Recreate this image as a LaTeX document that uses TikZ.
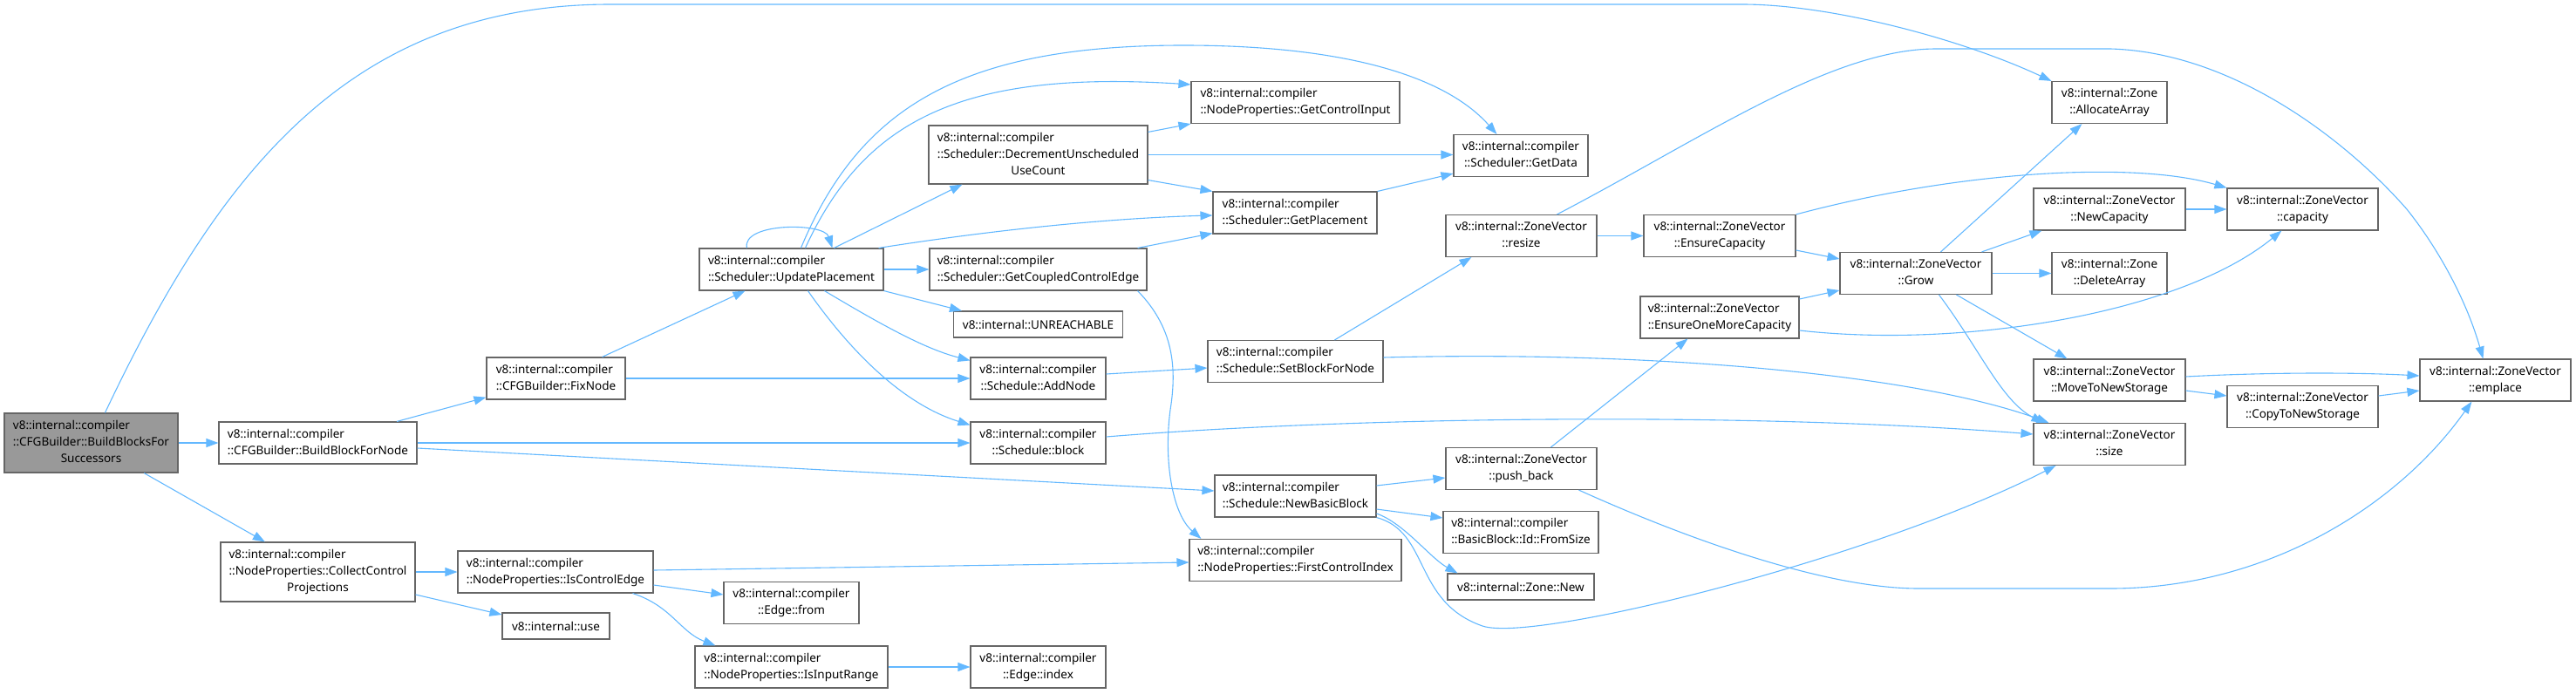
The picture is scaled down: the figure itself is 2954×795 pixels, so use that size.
\documentclass[tikz,border=0pt]{standalone}
\usepackage{fontspec}
\setmainfont{Noto Sans}
\usetikzlibrary{arrows.meta}
\definecolor{edgeblue}{HTML}{63B8FF}
\definecolor{boxgray}{HTML}{666666}
\definecolor{rootgray}{HTML}{999999}
\newcommand{\dxtwo}[2]{\begin{tabular}{@{}l@{}}#1\\\multicolumn{1}{@{}c@{}}{#2}\end{tabular}}
\newcommand{\dxthree}[3]{\begin{tabular}{@{}l@{}}#1\\#2\\\multicolumn{1}{@{}c@{}}{#3}\end{tabular}}
\tikzset{
  fn/.style 2 args={draw=boxgray, fill=white, line width=1.1pt, inner sep=0pt,
    minimum width=#1pt, minimum height=#2pt, font=\fontsize{13.5}{19}\selectfont},
  rootfn/.style 2 args={fn={#1}{#2}, fill=rootgray},
  call/.style={draw=edgeblue, line width=1.1pt, -{Triangle[length=14pt,width=10pt]}}
}
\begin{document}
\begin{tikzpicture}[x=1pt,y=-1pt]
\useasboundingbox (0,0) rectangle (2954,795);
% nodes
\node[rootfn={199}{68}] (bbfs) at (104.5,508) {\dxthree{v8::internal::compiler}{::CFGBuilder::BuildBlocksFor}{Successors}};
\node[fn={227}{48}] (bbfn) at (364.5,508) {\dxtwo{v8::internal::compiler}{::CFGBuilder::BuildBlockForNode}};
\node[fn={223}{68}] (ccp) at (364.5,656) {\dxthree{v8::internal::compiler}{::NodeProperties::CollectControl}{Projections}};
\node[fn={159}{48}] (fix) at (637.5,434) {\dxtwo{v8::internal::compiler}{::CFGBuilder::FixNode}};
\node[fn={224}{48}] (ice) at (637,656) {\dxtwo{v8::internal::compiler}{::NodeProperties::IsControlEdge}};
\node[fn={123}{30}] (use) at (637.5,718) {v8::internal::use};
\node[fn={211}{48}] (up) at (907.5,309) {\dxtwo{v8::internal::compiler}{::Scheduler::UpdatePlacement}};
\node[fn={155}{48}] (ef) at (907.5,691.5) {\dxtwo{v8::internal::compiler}{::Edge::from}};
\node[fn={221}{48}] (iir) at (907.5,765) {\dxtwo{v8::internal::compiler}{::NodeProperties::IsInputRange}};
\node[fn={251}{67}] (dec) at (1190.5,177.5) {\dxthree{v8::internal::compiler}{::Scheduler::DecrementUnscheduled}{UseCount}};
\node[fn={249}{48}] (gce) at (1190.5,309) {\dxtwo{v8::internal::compiler}{::Scheduler::GetCoupledControlEdge}};
\node[fn={194}{30}] (unr) at (1190.5,372) {v8::internal::UNREACHABLE};
\node[fn={155}{48}] (add) at (1190.5,434) {\dxtwo{v8::internal::compiler}{::Schedule::AddNode}};
\node[fn={155}{48}] (blk) at (1190.5,508) {\dxtwo{v8::internal::compiler}{::Schedule::block}};
\node[fn={155}{48}] (ei) at (1190.5,765) {\dxtwo{v8::internal::compiler}{::Edge::index}};
\node[fn={239}{48}] (gci) at (1485.5,117.5) {\dxtwo{v8::internal::compiler}{::NodeProperties::GetControlInput}};
\node[fn={188}{48}] (gp) at (1485,244) {\dxtwo{v8::internal::compiler}{::Scheduler::GetPlacement}};
\node[fn={201}{48}] (sbfn) at (1485.5,414.5) {\dxtwo{v8::internal::compiler}{::Schedule::SetBlockForNode}};
\node[fn={185}{48}] (nbb) at (1485.5,569) {\dxtwo{v8::internal::compiler}{::Schedule::NewBasicBlock}};
\node[fn={243}{48}] (fci) at (1485.5,642.5) {\dxtwo{v8::internal::compiler}{::NodeProperties::FirstControlIndex}};
\node[fn={154}{48}] (gd) at (1744,178.5) {\dxtwo{v8::internal::compiler}{::Scheduler::GetData}};
\node[fn={173}{48}] (rsz) at (1744.5,270.5) {\dxtwo{v8::internal::ZoneVector}{::resize}};
\node[fn={173}{48}] (pb) at (1744.5,537.5) {\dxtwo{v8::internal::ZoneVector}{::push\_back}};
\node[fn={178}{48}] (fs) at (1744,610.5) {\dxtwo{v8::internal::compiler}{::BasicBlock::Id::FromSize}};
\node[fn={168}{30}] (zn) at (1744,673) {v8::internal::Zone::New};
\node[fn={174}{48}] (ec) at (1972,270.5) {\dxtwo{v8::internal::ZoneVector}{::EnsureCapacity}};
\node[fn={182}{48}] (eomc) at (1972,364) {\dxtwo{v8::internal::ZoneVector}{::EnsureOneMoreCapacity}};
\node[fn={174}{48}] (grow) at (2197,313.5) {\dxtwo{v8::internal::ZoneVector}{::Grow}};
\node[fn={132}{48}] (aa) at (2419,117.5) {\dxtwo{v8::internal::Zone}{::AllocateArray}};
\node[fn={174}{48}] (nc) at (2419,240) {\dxtwo{v8::internal::ZoneVector}{::NewCapacity}};
\node[fn={132}{48}] (da) at (2419,313.5) {\dxtwo{v8::internal::Zone}{::DeleteArray}};
\node[fn={174}{48}] (mtns) at (2419,436) {\dxtwo{v8::internal::ZoneVector}{::MoveToNewStorage}};
\node[fn={174}{48}] (sz) at (2419,509.5) {\dxtwo{v8::internal::ZoneVector}{::size}};
\node[fn={173}{48}] (cap) at (2640.5,240) {\dxtwo{v8::internal::ZoneVector}{::capacity}};
\node[fn={173}{48}] (ctns) at (2640.5,466.5) {\dxtwo{v8::internal::ZoneVector}{::CopyToNewStorage}};
\node[fn={173}{48}] (emp) at (2861.5,436) {\dxtwo{v8::internal::ZoneVector}{::emplace}};
% edges
\draw[call] ([xshift=116pt]bbfs.north west) .. controls (250,200) and (400,5) .. (700,5) -- (1998,5) .. controls (2100,5) and (2250,45) .. (aa.north west);
\draw[call] (bbfs.east) -- (bbfn.west);
\draw[call] (bbfs) -- (ccp);
\draw[call] (bbfn) -- (fix);
\draw[call] (bbfn.east) -- (blk.west);
\draw[call] ([yshift=-6pt]bbfn.east) -- ([yshift=6pt]nbb.west);
\draw[call] (fix) -- (up);
\draw[call] (fix.east) -- (add.west);
\draw[call] ([xshift=55pt]up.north west) .. controls (850,255) and (945,255) .. ([xshift=153pt]up.north west);
\draw[call] ([xshift=117pt]up.north west) .. controls (985,125) and (1100,52) .. (1357,52) .. controls (1550,52) and (1660,90) .. ([xshift=50pt]gd.north west);
\draw[call] ([xshift=122pt]up.north west) .. controls (990,140) and (1100,80) .. ([yshift=-4pt]gci.north west);
\draw[call] ([xshift=155pt]up.north west) -- ([xshift=39pt]dec.south west);
\draw[call] ([xshift=-6pt]up.north east) .. controls (1150,262) and (1280,250) .. ([yshift=-3pt]gp.west);
\draw[call] (up.east) -- (gce.west);
\draw[call] (up.south east) -- ([xshift=10pt]unr.north west);
\draw[call] ([xshift=144pt]up.south west) .. controls (1010,372) and (1060,400) .. ([yshift=-4pt]add.north west);
\draw[call] ([xshift=125pt]up.south west) .. controls (980,410) and (1040,465) .. ([yshift=-4pt]blk.north west);
\draw[call] ([yshift=-8pt]dec.north east) -- (gci.south west);
\draw[call] (dec.east) -- (dec.east -| gd.west);
\draw[call] ([yshift=5pt]dec.south east) -- (gp.north west);
\draw[call] (gp.north east) -- ([yshift=4pt]gd.south west);
\draw[call] ([xshift=-11pt]gce.north east) -- ([yshift=1pt]gp.south west);
\draw[call] ([xshift=-11pt]gce.south east) .. controls (1345,375) and (1350,420) .. (1342,470) .. controls (1334,530) and (1345,590) .. ([xshift=14pt]fci.north west);
\draw[call] ([yshift=5pt]add.east) -- ([yshift=-7.5pt]sbfn.west);
\draw[call] ([xshift=146pt]sbfn.north west) -- ([xshift=30pt]rsz.south west);
\draw[call] ([yshift=4.5pt]sbfn.east) .. controls (1900,402) and (2200,430) .. ([xshift=18pt]sz.north west);
\draw[call] ([yshift=7pt]blk.east) .. controls (1550,478) and (2000,472) .. ([yshift=11.5pt]sz.west);
\draw[call] ([yshift=12pt]nbb.east) -- ([yshift=-10.5pt]pb.west);
\draw[call] ([yshift=-15pt]nbb.east) -- ([yshift=16.5pt]fs.west);
\draw[call] ([yshift=-20pt]nbb.east) .. controls (1610,600) and (1640,640) .. ([xshift=12pt]zn.north west);
\draw[call] (nbb.south east) .. controls (1640,610) and (1620,690) .. (1700,718) .. controls (1760,738) and (2150,640) .. ([xshift=26pt]sz.south west);
\draw[call] ([xshift=121pt]pb.north west) -- ([xshift=55pt]eomc.south west);
\draw[call] ([xshift=153pt]pb.south west) .. controls (1950,625) and (2100,675) .. (2200,675) -- (2420,675) .. controls (2600,675) and (2750,580) .. ([xshift=60pt]emp.south west);
\draw[call] (rsz.east) -- (ec.west);
\draw[call] ([xshift=128pt]rsz.north west) .. controls (1950,160) and (2100,56) .. (2220,56) -- (2420,56) .. controls (2560,60) and (2690,160) .. (2760,240) .. controls (2800,290) and (2830,350) .. ([xshift=73pt]emp.north west);
\draw[call] ([yshift=-16.5pt]ec.east) -- ([yshift=16.5pt]grow.west);
\draw[call] (ec.north east) .. controls (2250,195) and (2450,185) .. (cap.north west);
\draw[call] ([yshift=21pt]eomc.east) -- ([yshift=-19.5pt]grow.west);
\draw[call] ([yshift=-15pt]eomc.east) .. controls (2250,400) and (2500,360) .. ([xshift=63pt]cap.south west);
\draw[call] ([xshift=116pt]grow.north west) -- ([xshift=35pt]aa.south west);
\draw[call] ([xshift=163pt]grow.north west) -- ([xshift=10pt]nc.south west);
\draw[call] (grow.east) -- (da.west);
\draw[call] ([xshift=134pt]grow.south west) -- ([xshift=39pt]mtns.north west);
\draw[call] ([xshift=114pt]grow.south west) .. controls (2270,400) and (2295,460) .. ([xshift=12pt]sz.north west);
\draw[call] (nc.east) -- (cap.west);
\draw[call] ([yshift=4pt]mtns.east) .. controls (2600,427) and (2700,427) .. ([yshift=5pt]emp.west);
\draw[call] ([yshift=-12pt]mtns.east) -- ([yshift=12.5pt]ctns.west);
\draw[call] ([yshift=12.5pt]ctns.east) -- ([yshift=-12pt]emp.west);
\draw[call] (ccp.east) -- (ice.west);
\draw[call] ([yshift=-26pt]ccp.east) -- ([yshift=13pt]use.west);
\draw[call] ([yshift=2pt]ice.east) -- ([yshift=-2.5pt]fci.west);
\draw[call] ([yshift=-15pt]ice.east) -- ([yshift=9.5pt]ef.west);
\draw[call] ([xshift=201pt]ice.south west) .. controls (770,695) and (780,725) .. ([xshift=24pt]iir.north west);
\draw[call] (iir.east) -- (ei.west);
\end{tikzpicture}
\end{document}
